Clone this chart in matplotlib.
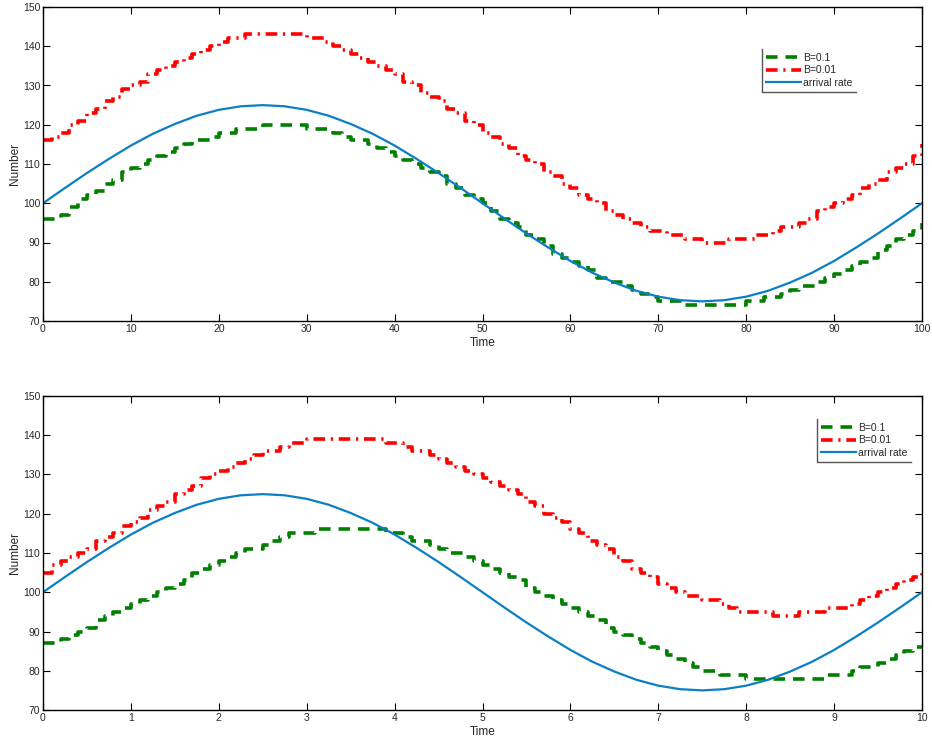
import matplotlib
matplotlib.use("Agg")
import matplotlib.pyplot as plt
from matplotlib.lines import Line2D

plt.rcParams["font.family"] = ["Liberation Sans", "DejaVu Sans"]

# top panel: Time 0..100, one level per unit of time
top_time = list(range(0, 101))
top_b01 = [
    96, 96, 97, 99, 101, 102, 103, 105, 106, 108,
    109, 110, 111, 112, 113, 114, 115, 116, 116, 117,
    118, 118, 119, 119, 119, 120, 120, 120, 120, 120,
    119, 119, 119, 118, 117, 116, 116, 115, 114, 113,
    112, 111, 110, 109, 108, 107, 105, 104, 102, 101,
    100, 98, 96, 95, 94, 92, 91, 89, 87, 86,
    85, 84, 83, 81, 80, 80, 79, 78, 77, 76,
    75, 75, 75, 74, 74, 74, 74, 74, 74, 74,
    75, 75, 76, 76, 77, 78, 79, 79, 80, 81,
    82, 83, 84, 85, 86, 88, 89, 91, 92, 93,
    95,
]
top_b001 = [
    116, 117, 118, 120, 121, 123, 124, 126, 127, 129,
    130, 131, 133, 134, 135, 136, 137, 138, 139, 140,
    141, 142, 142, 143, 143, 143, 143, 143, 143, 143,
    142, 142, 141, 140, 139, 138, 137, 136, 135, 134,
    133, 131, 130, 128, 127, 126, 124, 123, 121, 120,
    118, 117, 115, 114, 112, 111, 110, 108, 107, 105,
    104, 102, 101, 100, 98, 97, 96, 95, 94, 93,
    93, 92, 92, 91, 91, 90, 90, 90, 91, 91,
    91, 92, 92, 93, 94, 94, 95, 96, 98, 99,
    100, 101, 102, 104, 105, 106, 108, 109, 110, 112,
    115,
]

# bottom panel: Time 0..10, one level per 0.1
bottom_time = [i / 10 for i in range(0, 101)]
bottom_b01 = [
    87, 87, 88, 89, 90, 91, 93, 94, 95, 96,
    97, 98, 99, 100, 101, 102, 103, 105, 106, 107,
    108, 109, 110, 111, 111, 112, 113, 114, 115, 115,
    115, 116, 116, 116, 116, 116, 116, 116, 116, 115,
    115, 114, 113, 113, 112, 111, 110, 110, 109, 108,
    107, 106, 105, 104, 103, 101, 100, 99, 98, 97,
    96, 95, 94, 93, 91, 90, 89, 88, 87, 86,
    85, 84, 83, 82, 81, 80, 80, 79, 79, 79,
    78, 78, 78, 78, 78, 78, 78, 78, 78, 79,
    79, 79, 80, 81, 81, 82, 83, 84, 85, 86,
    86,
]
bottom_b001 = [
    105, 107, 108, 109, 110, 111, 113, 114, 115, 117,
    118, 119, 121, 122, 123, 125, 126, 127, 129, 130,
    131, 132, 133, 134, 135, 136, 136, 137, 138, 138,
    139, 139, 139, 139, 139, 139, 139, 139, 139, 138,
    138, 137, 136, 136, 135, 134, 133, 132, 131, 130,
    129, 128, 127, 126, 125, 123, 122, 120, 119, 118,
    116, 115, 113, 112, 111, 109, 108, 106, 105, 104,
    102, 101, 100, 99, 99, 98, 98, 97, 96, 95,
    95, 95, 95, 94, 94, 94, 95, 95, 95, 96,
    96, 96, 97, 98, 99, 100, 101, 102, 103, 104,
    105,
]

# arrival rate, sampled every 1/40 of the period
arrival = [
    100.0, 103.9, 107.7, 111.3, 114.7, 117.7, 120.2, 122.3, 123.8, 124.7, 125.0,
    124.7, 123.8, 122.3, 120.2, 117.7, 114.7, 111.3, 107.7, 103.9, 100.0,
    96.1, 92.3, 88.7, 85.3, 82.3, 79.8, 77.7, 76.2, 75.3, 75.0,
    75.3, 76.2, 77.7, 79.8, 82.3, 85.3, 88.7, 92.3, 96.1, 100.0,
]
arrival_time_top = [2.5 * i for i in range(41)]
arrival_time_bottom = [0.25 * i for i in range(41)]

series_labels = ["B=0.1", "B=0.01", "arrival rate"]

GREEN = "#007f00"
RED = "#ff0000"
BLUE = "#0a7fc4"
TEXT = "#262626"

fig = plt.figure(figsize=(9.32, 7.38), dpi=100)
ax_top = fig.add_axes([43 / 932, 1 - 321 / 738, 879 / 932, 314 / 738])
ax_bot = fig.add_axes([43 / 932, 1 - 710 / 738, 879 / 932, 314 / 738])


def draw_panel(ax, t, b01, b001, ta, xmax, xticks, legend_box):
    ax.step(t, b01, where="post", color=GREEN, lw=2.6, dashes=(3.2, 2.2), label=series_labels[0])
    ax.step(t, b001, where="post", color=RED, lw=2.6, dashes=(3.2, 1.6, 0.6, 1.6), label=series_labels[1])
    ax.plot(ta, arrival, color=BLUE, lw=1.6, label=series_labels[2])
    ax.set_xlim(0, xmax)
    ax.set_ylim(70, 150)
    ax.set_xticks(xticks)
    ax.set_yticks(range(70, 151, 10))
    ax.tick_params(direction="in", length=5, width=0.8, top=True, right=True,
                   labelsize=7.5, colors="black", labelcolor=TEXT, pad=2)
    for sp in ax.spines.values():
        sp.set_linewidth(1.0)
    ax.set_xlabel("Time", fontsize=8.5, color=TEXT, labelpad=2)
    ax.set_ylabel("Number", fontsize=8.5, color=TEXT, labelpad=1)
    leg = ax.legend(loc="upper left", bbox_to_anchor=legend_box, fontsize=7.5,
                    frameon=False, handlelength=3.4, handletextpad=0.2,
                    labelspacing=0.25, borderpad=0.35, borderaxespad=0)
    for txt in leg.get_texts():
        txt.set_color(TEXT)
    return leg


leg_top = draw_panel(ax_top, top_time, top_b01, top_b001, arrival_time_top, 100,
                     range(0, 101, 10), ((762 - 43) / 879, (321 - 49) / 314))
leg_bot = draw_panel(ax_bot, bottom_time, bottom_b01, bottom_b001, arrival_time_bottom, 10,
                     range(0, 11), ((817 - 43) / 879, (710 - 419) / 314))

# MATLAB-style legend frame: only left and bottom edges
fig.canvas.draw()
renderer = fig.canvas.get_renderer()
inv = fig.transFigure.inverted()
for leg in (leg_top, leg_bot):
    bb = leg.get_window_extent(renderer).transformed(inv)
    fig.add_artist(Line2D([bb.x0, bb.x0, bb.x1], [bb.y1, bb.y0, bb.y0],
                          transform=fig.transFigure, color="#555555", lw=1.0))

fig.savefig("out.png", dpi=100)
